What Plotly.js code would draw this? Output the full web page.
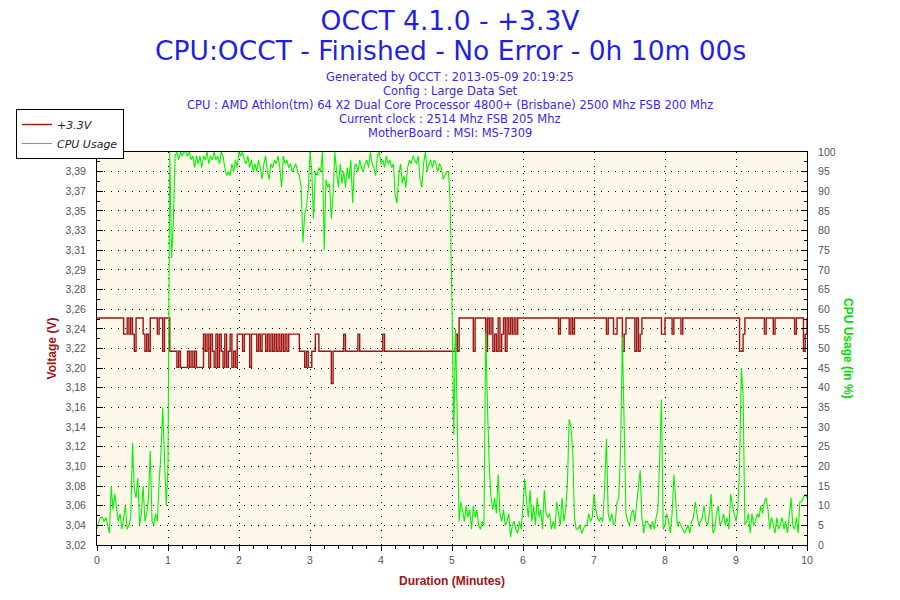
<!DOCTYPE html>
<html>
<head>
<meta charset="utf-8">
<script src="https://cdn.plot.ly/plotly-3.0.1.min.js"></script>
<style>
  html, body { margin: 0; padding: 0; background: #ffffff; }
  #chart { width: 900px; height: 600px; }
</style>
</head>
<body>
<div id="chart"></div>
<script>
// ---------------- DATA ----------------
const titleLines = [
  "OCCT 4.1.0 - +3.3V",
  "CPU:OCCT - Finished - No Error - 0h 10m 00s"
];
const infoLines = [
  "Generated by OCCT : 2013-05-09 20:19:25",
  "Config : Large Data Set",
  "CPU : AMD Athlon(tm) 64 X2 Dual Core Processor 4800+ (Brisbane) 2500 Mhz FSB 200 Mhz",
  "Current clock : 2514 Mhz FSB 205 Mhz",
  "MotherBoard : MSI: MS-7309"
];
const seriesNames = ["+3.3V", "CPU Usage"];
const sampleStepMinutes = 0.025;   // one sample every 1.5 s

// +3.3V rail reading (V), one value per sample
const voltage = [
  3.247,3.247,3.247,3.247,3.247,3.247,3.247,3.247,3.247,3.247,
  3.247,3.247,3.247,3.247,3.247,3.231,3.231,3.247,3.231,3.247,
  3.231,3.214,3.247,3.247,3.247,3.247,3.231,3.214,3.231,3.214,
  3.247,3.247,3.247,3.247,3.231,3.247,3.247,3.214,3.247,3.247,
  3.247,3.214,3.214,3.214,3.214,3.198,3.214,3.198,3.198,3.198,
  3.198,3.214,3.198,3.214,3.198,3.214,3.198,3.198,3.198,3.198,
  3.231,3.214,3.231,3.198,3.231,3.214,3.198,3.231,3.198,3.231,
  3.214,3.198,3.231,3.198,3.214,3.231,3.198,3.214,3.198,3.231,
  3.231,3.231,3.214,3.231,3.231,3.231,3.198,3.231,3.231,3.231,
  3.214,3.231,3.214,3.231,3.231,3.214,3.231,3.214,3.231,3.214,
  3.231,3.214,3.231,3.214,3.231,3.214,3.231,3.214,3.231,3.231,
  3.231,3.231,3.231,3.231,3.214,3.214,3.214,3.198,3.214,3.198,
  3.198,3.214,3.214,3.231,3.231,3.214,3.214,3.214,3.214,3.214,
  3.214,3.214,3.182,3.214,3.214,3.214,3.214,3.214,3.214,3.231,
  3.214,3.214,3.214,3.214,3.214,3.214,3.214,3.231,3.214,3.214,
  3.214,3.214,3.214,3.214,3.214,3.214,3.214,3.214,3.214,3.214,
  3.214,3.231,3.214,3.214,3.214,3.214,3.214,3.214,3.214,3.214,
  3.214,3.214,3.214,3.214,3.214,3.214,3.214,3.214,3.214,3.214,
  3.214,3.214,3.214,3.214,3.214,3.214,3.214,3.214,3.214,3.214,
  3.214,3.214,3.214,3.214,3.214,3.214,3.214,3.214,3.214,3.214,
  3.214,3.214,3.231,3.214,3.247,3.247,3.247,3.247,3.247,3.247,
  3.247,3.247,3.214,3.247,3.247,3.247,3.247,3.247,3.247,3.214,
  3.247,3.231,3.247,3.214,3.231,3.214,3.247,3.214,3.231,3.247,
  3.214,3.247,3.231,3.247,3.231,3.247,3.231,3.247,3.247,3.247,
  3.247,3.247,3.247,3.247,3.247,3.247,3.247,3.247,3.247,3.247,
  3.247,3.247,3.247,3.247,3.247,3.247,3.247,3.247,3.247,3.247,
  3.231,3.247,3.247,3.247,3.247,3.247,3.231,3.247,3.231,3.247,
  3.247,3.247,3.247,3.247,3.247,3.247,3.247,3.247,3.247,3.247,
  3.247,3.247,3.247,3.247,3.247,3.247,3.247,3.231,3.247,3.247,
  3.247,3.231,3.231,3.247,3.247,3.247,3.214,3.231,3.247,3.247,
  3.247,3.247,3.247,3.214,3.247,3.214,3.231,3.247,3.247,3.247,
  3.247,3.247,3.247,3.247,3.247,3.247,3.247,3.247,3.231,3.231,
  3.247,3.247,3.247,3.247,3.231,3.247,3.247,3.247,3.247,3.231,
  3.247,3.247,3.247,3.247,3.247,3.247,3.247,3.247,3.247,3.247,
  3.247,3.247,3.247,3.247,3.247,3.247,3.247,3.247,3.247,3.247,
  3.247,3.247,3.247,3.247,3.247,3.247,3.247,3.247,3.247,3.247,
  3.247,3.247,3.214,3.214,3.231,3.247,3.247,3.247,3.247,3.247,
  3.247,3.247,3.247,3.247,3.247,3.247,3.231,3.247,3.247,3.247,
  3.247,3.231,3.247,3.247,3.247,3.247,3.247,3.247,3.247,3.247,
  3.247,3.247,3.247,3.231,3.247,3.247,3.247,3.247,3.214,3.231,
  3.247
];

// CPU usage (%), one value per sample
const cpuUsage = [
  4, 6, 7, 7, 6, 7, 5, 3, 15, 9,
  13, 10, 6, 8, 4, 7, 10, 4, 5, 7,
  26, 14, 12, 17, 5, 8, 15, 6, 8, 12,
  24, 6, 5, 8, 6, 16, 23, 35, 20, 10,
  20, 100, 73, 82, 99, 100, 98, 100, 99, 100,
  100, 99, 100, 98, 99, 96, 99, 97, 99, 96,
  99, 98, 100, 97, 99, 98, 100, 98, 99, 97,
  100, 99, 96, 94, 95, 94, 97, 95, 98, 96,
  100, 99, 100, 98, 97, 99, 96, 98, 95, 97,
  95, 98, 96, 93, 97, 99, 95, 93, 97, 96,
  98, 97, 99, 96, 91, 99, 97, 98, 96, 97,
  95, 96, 97, 95, 94, 91, 77, 84, 86, 90,
  100, 95, 83, 95, 94, 96, 95, 100, 75, 93,
  91, 92, 83, 89, 100, 95, 91, 97, 92, 95,
  91, 96, 93, 98, 87, 96, 97, 95, 98, 96,
  95, 97, 98, 96, 100, 97, 96, 94, 99, 100,
  97, 98, 96, 99, 97, 98, 96, 97, 89, 87,
  94, 97, 92, 94, 91, 96, 98, 97, 99, 98,
  97, 99, 93, 91, 97, 100, 95, 97, 98, 96,
  98, 97, 95, 97, 96, 93, 94, 95, 95, 87,
  60, 28, 55, 25, 6, 11, 8, 6, 10, 7,
  9, 4, 10, 7, 9, 5, 4, 6, 5, 54,
  35, 20, 12, 9, 12, 8, 18, 8, 6, 9,
  5, 6, 8, 2, 5, 6, 4, 3, 6, 4,
  10, 17, 11, 7, 14, 6, 10, 5, 12, 7,
  9, 4, 14, 8, 7, 8, 4, 6, 4, 11,
  8, 5, 12, 6, 9, 15, 32, 30, 24, 7,
  4, 4, 5, 3, 4, 5, 5, 8, 6, 7,
  13, 9, 7, 6, 7, 6, 15, 27, 8, 6,
  8, 5, 6, 11, 12, 25, 53, 30, 8, 6,
  5, 8, 9, 6, 11, 14, 19, 7, 3, 6,
  6, 5, 4, 6, 4, 7, 9, 22, 37, 4,
  5, 8, 6, 3, 8, 18, 12, 5, 6, 5,
  4, 3, 4, 5, 3, 6, 7, 11, 8, 5,
  6, 7, 10, 6, 5, 8, 13, 3, 4, 8,
  10, 5, 6, 8, 5, 7, 4, 13, 10, 8,
  6, 9, 20, 45, 38, 5, 6, 8, 3, 8,
  5, 6, 8, 7, 10, 8, 11, 12, 9, 4,
  7, 5, 3, 7, 4, 5, 7, 4, 6, 3,
  8, 12, 5, 4, 7, 3, 11, 11, 12, 13,
  12
];

// Left axis tick labels (as printed on the chart)
const voltTickLabels = ["3,02","3,04","3,06","3,08","3,10","3,12","3,14","3,16","3,18","3,20",
  "3,22","3,24","3,26","3,28","3,29","3,31","3,33","3,35","3,37","3,39","3,41"];
const voltAxisMin = 3.0217;
const voltAxisStep = 0.0195;

// ---------------- CHART ----------------
const minutes = cpuUsage.map((_, i) => i * sampleStepMinutes);
const voltTickVals = voltTickLabels.map((_, k) => voltAxisMin + k * voltAxisStep);
const voltAxisMax = voltAxisMin + (voltTickLabels.length - 1) * voltAxisStep;

const tickFont = { family: "Liberation Sans, Arial, sans-serif", size: 10.5, color: "#555555" };
const gridDash = "1px,6px";
const titleFont = { family: "DejaVu Sans, Verdana, sans-serif", size: 26.5, color: "#1f1fe6" };

const traces = [
  {
    x: minutes, y: voltage, type: "scatter", mode: "lines", name: seriesNames[0],
    line: { color: "#a01414", width: 1.4, shape: "hv" }, yaxis: "y", hoverinfo: "skip"
  },
  {
    x: minutes, y: cpuUsage, type: "scatter", mode: "lines", name: seriesNames[1],
    line: { color: "#00f500", width: 1.1 }, yaxis: "y2", hoverinfo: "skip"
  }
];

const PL = 97, PR = 807, PT = 152, PB = 545;
const px2x = p => (p - PL) / (PR - PL);
const py2y = p => (PB - p) / (PB - PT);

const annotations = [];
annotations.push({
  text: titleLines[1], xref: "paper", yref: "paper", x: px2x(450), y: py2y(51),
  xanchor: "center", yanchor: "middle", showarrow: false, font: titleFont
});
infoLines.forEach((t, k) => {
  annotations.push({
    text: t, xref: "paper", yref: "paper", x: px2x(450), y: py2y(77 + 14 * k),
    xanchor: "center", yanchor: "middle", showarrow: false,
    font: { family: "DejaVu Sans, Verdana, sans-serif", size: 11.5, color: "#3a2ae0" }
  });
});
annotations.push({
  text: "<b>CPU Usage (in %)</b>", xref: "paper", yref: "paper", x: px2x(848), y: py2y(348),
  xanchor: "center", yanchor: "middle", showarrow: false, textangle: 90,
  font: { family: "Liberation Sans, Arial, sans-serif", size: 12, color: "#00dd00" }
});

const layout = {
  width: 900, height: 600,
  margin: { l: PL, r: 900 - PR, t: PT, b: 600 - PB, pad: 0 },
  paper_bgcolor: "#ffffff",
  plot_bgcolor: "#fdf8e9",
  showlegend: true,
  title: {
    text: titleLines[0],
    font: titleFont,
    xref: "container", x: 0.5, xanchor: "center",
    yref: "container", y: 1 - 21 / 600, yanchor: "middle"
  },
  xaxis: {
    range: [0, 10], tickmode: "linear", tick0: 0, dtick: 1,
    ticks: "outside", ticklen: 5, tickcolor: "#000", tickwidth: 1,
    minor: { tickmode: "linear", tick0: 0, dtick: 0.2, ticks: "outside", ticklen: 3, tickcolor: "#000", showgrid: false },
    showgrid: true, gridcolor: "#000", gridwidth: 1, griddash: gridDash,
    showline: true, linecolor: "#000", linewidth: 1, mirror: true, zeroline: false,
    tickfont: tickFont,
    title: { text: "<b>Duration (Minutes)</b>", font: { family: "Liberation Sans, Arial, sans-serif", size: 12, color: "#a01414" }, standoff: 12 }
  },
  yaxis: {
    range: [voltAxisMin, voltAxisMax], tickmode: "array", tickvals: voltTickVals, ticktext: voltTickLabels,
    ticks: "inside", ticklen: 6, tickcolor: "#000", tickwidth: 1,
    minor: { tickmode: "linear", tick0: voltAxisMin, dtick: voltAxisStep / 2, ticks: "inside", ticklen: 3, tickcolor: "#000", showgrid: false },
    showgrid: true, gridcolor: "#000", gridwidth: 1, griddash: gridDash,
    showline: true, linecolor: "#000", linewidth: 1, zeroline: false,
    tickfont: tickFont, ticklabelstandoff: 8,
    title: { text: "<b>Voltage (V)</b>", font: { family: "Liberation Sans, Arial, sans-serif", size: 12, color: "#a01414" }, standoff: 6 }
  },
  yaxis2: {
    overlaying: "y", side: "right", range: [0, 100], tickmode: "linear", tick0: 0, dtick: 5,
    ticks: "inside", ticklen: 6, tickcolor: "#000", tickwidth: 1,
    minor: { tickmode: "linear", tick0: 0, dtick: 2.5, ticks: "inside", ticklen: 3, tickcolor: "#000", showgrid: false },
    showgrid: false, showline: true, linecolor: "#000", linewidth: 1, zeroline: false,
    tickfont: tickFont, ticklabelstandoff: 8
  },
  legend: {
    x: px2x(16), y: py2y(109), xanchor: "left", yanchor: "top",
    bgcolor: "#ffffff", bordercolor: "#000000", borderwidth: 1,
    font: { family: "DejaVu Sans, Verdana, sans-serif", size: 11, color: "#222222", style: "italic" },
    tracegroupgap: 0
  },
  annotations: annotations
};

Plotly.newPlot("chart", traces, layout, { displayModeBar: false, staticPlot: true });
</script>
</body>
</html>
